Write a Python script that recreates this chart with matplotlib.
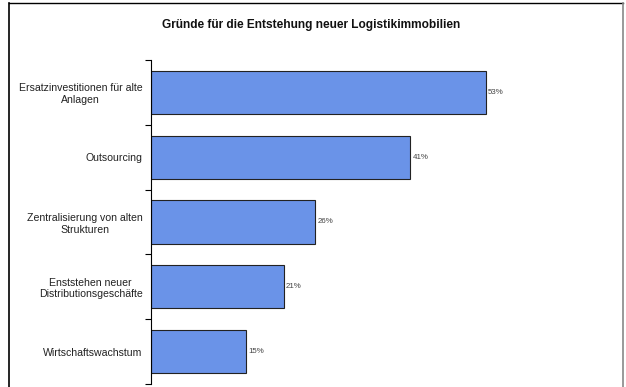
import matplotlib
matplotlib.use('Agg')
import matplotlib.pyplot as plt
from matplotlib.lines import Line2D

plt.rcParams['font.family'] = ['Liberation Sans', 'DejaVu Sans']

title = "Gründe für die Entstehung neuer Logistikimmobilien"
labels = ["Ersatzinvestitionen für alte\nAnlagen",
          "Outsourcing",
          "Zentralisierung von alten\nStrukturen",
          "Enststehen neuer\nDistributionsgeschäfte",
          "Wirtschaftswachstum"]
values = [53, 41, 26, 21, 15]

fig = plt.figure(figsize=(6.26, 3.87), dpi=100)
ax = fig.add_axes([151 / 626, 3 / 387, 442 / 626, 324 / 387])

pos = list(range(len(values)))
ax.barh(pos, values, height=0.665, color='#6a93e8', edgecolor='#222222', linewidth=0.8)
for p, v in zip(pos, values):
    ax.text(v + 0.4, p, "%d%%" % v, va='center', ha='left', fontsize=5.7, color='#444444')

ax.set_ylim(len(values) - 0.5, -0.5)
ax.set_xlim(0, 70)
ax.set_yticks([p - 0.5 for p in pos] + [len(values) - 0.5])
ax.set_yticklabels([])
ax.set_yticks(pos, minor=True)
ax.set_yticklabels(labels, minor=True, fontsize=7.6, ha='right',
                   multialignment='center', color='#222222')
ax.tick_params(axis='y', which='minor', length=0, pad=6)
ax.tick_params(axis='y', which='major', length=4, width=0.8, direction='out')
ax.set_xticks([])
for s in ['top', 'right', 'bottom']:
    ax.spines[s].set_visible(False)
ax.spines['left'].set_linewidth(0.8)

fig.text(311 / 626, 1 - 25 / 387, title, ha='center', va='center', fontsize=8.6,
         fontweight='bold', color='#111111')

# frame around the chart area
x0, x1, y1 = 9 / 626, 623 / 626, 1 - 3 / 387
fig.add_artist(Line2D([x0, x0], [0, y1], color='black', lw=1.2))
fig.add_artist(Line2D([x0, x1], [y1, y1], color='black', lw=1.0))
fig.add_artist(Line2D([x1, x1], [0, y1], color='#888888', lw=1.2))

plt.savefig('out.png', dpi=100)
